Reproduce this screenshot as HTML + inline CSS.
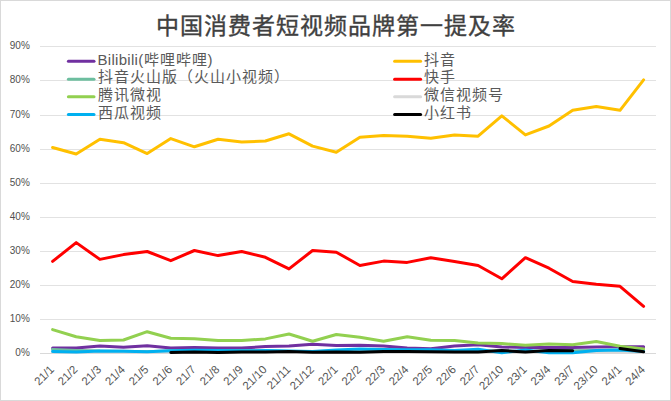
<!DOCTYPE html>
<html lang="zh-CN"><head><meta charset="utf-8">
<style>
html,body{margin:0;padding:0;background:#fff;}
body{width:671px;height:401px;overflow:hidden;position:relative;font-family:"Liberation Sans",sans-serif;}
svg{position:absolute;left:0;top:0;display:block;}
</style></head><body>
<svg width="671" height="401" viewBox="0 0 671 401" font-family="Liberation Sans, sans-serif">
<rect x="0.5" y="0.5" width="670" height="400" fill="#fff" stroke="#d9d9d9" stroke-width="1"/>
<text x="336.4" y="34.3" text-anchor="middle" font-size="23" letter-spacing="1" font-weight="500" fill="#404040" stroke="#404040" stroke-width="0.35">中国消费者短视频品牌第一提及率</text>
<g><line x1="40" y1="353.5" x2="656" y2="353.5" stroke="#d9d9d9" stroke-width="1"/>
<line x1="40" y1="319.5" x2="656" y2="319.5" stroke="#e2e2e2" stroke-width="1"/>
<line x1="40" y1="285.5" x2="656" y2="285.5" stroke="#e2e2e2" stroke-width="1"/>
<line x1="40" y1="251.5" x2="656" y2="251.5" stroke="#e2e2e2" stroke-width="1"/>
<line x1="40" y1="217.5" x2="656" y2="217.5" stroke="#e2e2e2" stroke-width="1"/>
<line x1="40" y1="183.5" x2="656" y2="183.5" stroke="#e2e2e2" stroke-width="1"/>
<line x1="40" y1="149.5" x2="656" y2="149.5" stroke="#e2e2e2" stroke-width="1"/>
<line x1="40" y1="115.5" x2="656" y2="115.5" stroke="#e2e2e2" stroke-width="1"/>
<line x1="40" y1="80.5" x2="656" y2="80.5" stroke="#e2e2e2" stroke-width="1"/>
<line x1="40" y1="46.5" x2="656" y2="46.5" stroke="#e2e2e2" stroke-width="1"/>
</g>
<g font-size="11" fill="#505050"><text transform="translate(29.8,356.2) scale(0.91,1)" text-anchor="end">0%</text>
<text transform="translate(29.8,322.2) scale(0.91,1)" text-anchor="end">10%</text>
<text transform="translate(29.8,288.2) scale(0.91,1)" text-anchor="end">20%</text>
<text transform="translate(29.8,254.2) scale(0.91,1)" text-anchor="end">30%</text>
<text transform="translate(29.8,220.2) scale(0.91,1)" text-anchor="end">40%</text>
<text transform="translate(29.8,186.2) scale(0.91,1)" text-anchor="end">50%</text>
<text transform="translate(29.8,152.2) scale(0.91,1)" text-anchor="end">60%</text>
<text transform="translate(29.8,118.2) scale(0.91,1)" text-anchor="end">70%</text>
<text transform="translate(29.8,83.2) scale(0.91,1)" text-anchor="end">80%</text>
<text transform="translate(29.8,49.2) scale(0.91,1)" text-anchor="end">90%</text>
</g>
<g font-size="11.5" fill="#555555"><text transform="translate(54.8,370.2) rotate(-45)" text-anchor="end">21/1</text>
<text transform="translate(78.4,370.2) rotate(-45)" text-anchor="end">21/2</text>
<text transform="translate(102.1,370.2) rotate(-45)" text-anchor="end">21/3</text>
<text transform="translate(125.7,370.2) rotate(-45)" text-anchor="end">21/4</text>
<text transform="translate(149.4,370.2) rotate(-45)" text-anchor="end">21/5</text>
<text transform="translate(173.0,370.2) rotate(-45)" text-anchor="end">21/6</text>
<text transform="translate(196.6,370.2) rotate(-45)" text-anchor="end">21/7</text>
<text transform="translate(220.3,370.2) rotate(-45)" text-anchor="end">21/8</text>
<text transform="translate(243.9,370.2) rotate(-45)" text-anchor="end">21/9</text>
<text transform="translate(267.6,370.2) rotate(-45)" text-anchor="end">21/10</text>
<text transform="translate(291.2,370.2) rotate(-45)" text-anchor="end">21/11</text>
<text transform="translate(314.8,370.2) rotate(-45)" text-anchor="end">21/12</text>
<text transform="translate(338.5,370.2) rotate(-45)" text-anchor="end">22/1</text>
<text transform="translate(362.1,370.2) rotate(-45)" text-anchor="end">22/2</text>
<text transform="translate(385.8,370.2) rotate(-45)" text-anchor="end">22/3</text>
<text transform="translate(409.4,370.2) rotate(-45)" text-anchor="end">22/4</text>
<text transform="translate(433.0,370.2) rotate(-45)" text-anchor="end">22/5</text>
<text transform="translate(456.7,370.2) rotate(-45)" text-anchor="end">22/6</text>
<text transform="translate(480.3,370.2) rotate(-45)" text-anchor="end">22/7</text>
<text transform="translate(504.0,370.2) rotate(-45)" text-anchor="end">22/10</text>
<text transform="translate(527.6,370.2) rotate(-45)" text-anchor="end">23/1</text>
<text transform="translate(551.2,370.2) rotate(-45)" text-anchor="end">23/4</text>
<text transform="translate(574.9,370.2) rotate(-45)" text-anchor="end">23/7</text>
<text transform="translate(598.5,370.2) rotate(-45)" text-anchor="end">23/10</text>
<text transform="translate(622.2,370.2) rotate(-45)" text-anchor="end">24/1</text>
<text transform="translate(645.8,370.2) rotate(-45)" text-anchor="end">24/4</text>
</g>
<polyline points="52.6,348.1 76.2,348.1 99.9,345.9 123.5,347.2 147.2,345.8 170.8,348.1 194.4,347.6 218.1,348.1 241.7,348.1 265.4,346.5 289.0,346.0 312.6,344.3 336.3,345.4 359.9,345.2 383.6,346.0 407.2,348.1 430.8,348.8 454.5,346.0 478.1,344.8 501.8,347.0 525.4,347.4 549.0,347.4 572.7,347.4 596.3,347.0 620.0,346.7 643.6,346.7" fill="none" stroke="#7030A0" stroke-width="3" stroke-linejoin="round" stroke-linecap="round"/>
<polyline points="52.6,147.5 76.2,154.0 99.9,139.3 123.5,142.7 147.2,153.6 170.8,138.6 194.4,146.8 218.1,139.3 241.7,142.0 265.4,141.0 289.0,133.8 312.6,146.1 336.3,152.3 359.9,137.2 383.6,135.5 407.2,136.2 430.8,138.3 454.5,134.9 478.1,136.2 501.8,115.8 525.4,134.9 549.0,126.0 572.7,110.3 596.3,106.5 620.0,110.3 643.6,79.9" fill="none" stroke="#FFC000" stroke-width="3" stroke-linejoin="round" stroke-linecap="round"/>
<polyline points="52.6,349.4 76.2,350.4 99.9,351.1 123.5,351.2 147.2,351.7 170.8,350.8 194.4,350.4 218.1,350.4 241.7,350.8 265.4,350.8 289.0,351.5 312.6,351.8 336.3,351.9 359.9,352.3 383.6,351.5 407.2,352.6 430.8,351.8 454.5,351.9 478.1,351.9 501.8,350.6 525.4,351.9 549.0,350.6 572.7,350.8 596.3,350.4 620.0,350.1 643.6,351.6" fill="none" stroke="#6DBE9F" stroke-width="3" stroke-linejoin="round" stroke-linecap="round"/>
<polyline points="52.6,261.4 76.2,242.6 99.9,259.4 123.5,254.6 147.2,251.5 170.8,260.7 194.4,250.5 218.1,255.6 241.7,251.5 265.4,257.3 289.0,268.9 312.6,250.5 336.3,252.2 359.9,265.5 383.6,261.1 407.2,262.4 430.8,257.7 454.5,261.4 478.1,265.5 501.8,278.8 525.4,257.7 549.0,268.2 572.7,281.5 596.3,284.3 620.0,286.3 643.6,306.4" fill="none" stroke="#FF0000" stroke-width="3" stroke-linejoin="round" stroke-linecap="round"/>
<polyline points="52.6,329.6 76.2,336.8 99.9,340.5 123.5,340.0 147.2,331.7 170.8,338.3 194.4,338.8 218.1,340.5 241.7,340.5 265.4,338.9 289.0,334.0 312.6,341.2 336.3,334.5 359.9,337.2 383.6,341.2 407.2,336.8 430.8,340.3 454.5,340.4 478.1,343.0 501.8,343.6 525.4,345.2 549.0,344.1 572.7,344.8 596.3,341.5 620.0,346.3 643.6,349.1" fill="none" stroke="#92D050" stroke-width="3" stroke-linejoin="round" stroke-linecap="round"/>
<polyline points="52.6,352.5 76.2,352.5 99.9,352.5 123.5,352.5 147.2,352.5 170.8,352.5 194.4,352.5 218.1,352.5 241.7,352.5 265.4,352.5 289.0,352.5 312.6,352.5 336.3,352.5 359.9,352.5 383.6,352.5 407.2,352.5 430.8,352.5 454.5,352.5 478.1,352.5 501.8,352.5 525.4,352.5 549.0,352.5 572.7,352.5 596.3,352.5 620.0,352.5 643.6,352.5" fill="none" stroke="#D9D9D9" stroke-width="3" stroke-linejoin="round" stroke-linecap="round"/>
<polyline points="52.6,351.4 76.2,351.9 99.9,351.1 123.5,351.2 147.2,351.7 170.8,350.8 194.4,350.3 218.1,350.4 241.7,350.8 265.4,350.6 289.0,351.1 312.6,351.5 336.3,350.1 359.9,349.1 383.6,349.4 407.2,349.7 430.8,349.7 454.5,350.4 478.1,349.2 501.8,352.8 525.4,350.1 549.0,352.8 572.7,352.8 596.3,350.4 620.0,350.1 643.6,351.6" fill="none" stroke="#00B0F0" stroke-width="3" stroke-linejoin="round" stroke-linecap="round"/>
<polyline points="170.8,352.4 194.4,352.1 218.1,352.4 241.7,352.1 265.4,351.9 289.0,351.5 312.6,352.3 336.3,351.9 359.9,352.3 383.6,351.5 407.2,351.6 430.8,351.8 454.5,351.9 478.1,351.9 501.8,350.6 525.4,351.9 549.0,350.6 572.7,350.8" fill="none" stroke="#000000" stroke-width="3" stroke-linejoin="round" stroke-linecap="round"/>
<polyline points="620.0,348.4 643.6,351.8" fill="none" stroke="#000000" stroke-width="3" stroke-linejoin="round" stroke-linecap="round"/>

<g font-size="15" letter-spacing="1" fill="#595959"><line x1="68.4" y1="61.3" x2="94" y2="61.3" stroke="#7030A0" stroke-width="3" stroke-linecap="round"/>
<text x="97.5" y="65.3"><tspan font-size="15" letter-spacing="0.3">Bilibili(</tspan>哔哩哔哩<tspan font-size="15" letter-spacing="0.3">)</tspan></text>
<line x1="68.4" y1="79.2" x2="94" y2="79.2" stroke="#6DBE9F" stroke-width="3" stroke-linecap="round"/>
<text x="97.5" y="82.0">抖音火山版（火山小视频）</text>
<line x1="68.4" y1="96.7" x2="94" y2="96.7" stroke="#92D050" stroke-width="3" stroke-linecap="round"/>
<text x="97.5" y="100.0">腾讯微视</text>
<line x1="68.4" y1="114.4" x2="94" y2="114.4" stroke="#00B0F0" stroke-width="3" stroke-linecap="round"/>
<text x="97.5" y="117.7">西瓜视频</text>
<line x1="394.6" y1="61.3" x2="420.6" y2="61.3" stroke="#FFC000" stroke-width="3" stroke-linecap="round"/>
<text x="423.5" y="65.3">抖音</text>
<line x1="394.6" y1="79.2" x2="420.6" y2="79.2" stroke="#FF0000" stroke-width="3" stroke-linecap="round"/>
<text x="423.5" y="82.0">快手</text>
<line x1="394.6" y1="96.7" x2="420.6" y2="96.7" stroke="#D9D9D9" stroke-width="3" stroke-linecap="round"/>
<text x="423.5" y="100.0">微信视频号</text>
<line x1="394.6" y1="114.4" x2="420.6" y2="114.4" stroke="#000000" stroke-width="3" stroke-linecap="round"/>
<text x="423.5" y="117.7">小红书</text>
</g>
</svg>
</body></html>
